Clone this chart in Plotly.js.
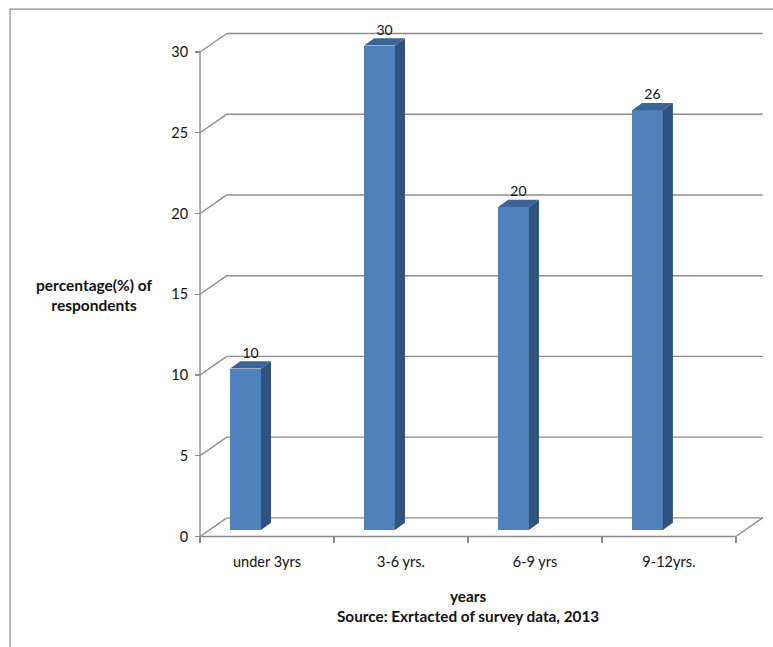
<!DOCTYPE html>
<html>
<head>
<meta charset="utf-8">
<script src="https://cdn.plot.ly/plotly-3.0.1.min.js"></script>
<style>html,body{margin:0;padding:0;background:#fff;}#chart{width:773px;height:647px;}</style>
</head>
<body>
<div id="chart"></div>
<script>
// ---- data ----
var categories = ["under 3yrs", "3-6 yrs.", "6-9 yrs", "9-12yrs."];
var values = [10, 30, 20, 26];
var yTicks = [0, 5, 10, 15, 20, 25, 30];
var yTitleText = "<b>percentage(%) of<br>respondents</b>";
var xTitleText = "<b>years</b>";
var sourceText = "<b>Source: Exrtacted of survey data, 2013</b>";

// ---- style constants (3D look) ----
var FONT = "Lato, 'Open Sans', sans-serif";
var GRID = "#8c8c8c";
var DX = 0.2, DY = 1.15;          // back-wall depth offset
var BAR_SHIFT = -0.16, BAR_W = 0.23, BASE = 0.4;
var SDX = 0.075, SDY = 0.45;      // bar depth
var FRONT = "#4F81BD", SIDE = "#31527C", TOP = "#3C6497";

var xs = categories.map(function(c, i){ return i; });
var nCat = categories.length;
var xL = -0.5, xR = nCat - 0.5;

// gridlines / walls as shapes below traces
var shapes = [];
function seg(x0, y0, x1, y1){
  shapes.push({type:'line', xref:'x', yref:'y', x0:x0, y0:y0, x1:x1, y1:y1,
    line:{color:GRID, width:1.4}, layer:'below'});
}
yTicks.forEach(function(t){
  seg(xL, t, xL + DX, t + DY);
  seg(xL + DX, t + DY, xR + DX, t + DY);
});
seg(xL, 0, xL, yTicks[yTicks.length-1]);
seg(xL, 0, xR, 0);
seg(xR, 0, xR + DX, DY);
// outer frame
shapes.push({type:'rect', xref:'paper', yref:'paper', x0:-0.289, x1:1.05, y0:1.0347, y1:-0.26,
  line:{color:'#8a8a8a', width:1.2}, fillcolor:'rgba(0,0,0,0)', layer:'below'});

// side and top faces
var sideX = [], sideY = [], topX = [], topY = [];
values.forEach(function(v, i){
  var xl = xs[i] + BAR_SHIFT - BAR_W/2, xr = xs[i] + BAR_SHIFT + BAR_W/2;
  var yb = BASE, yt = BASE + v;
  sideX.push(xr, xr+SDX, xr+SDX, xr, xr, null);
  sideY.push(yb, yb+SDY, yt+SDY, yt, yb, null);
  topX.push(xl, xl+SDX, xr+SDX, xr, xl, null);
  topY.push(yt, yt+SDY, yt+SDY, yt, yt, null);
});

var traces = [
  {type:'bar', x:xs, y:values, base:BASE, width:BAR_W, offset:BAR_SHIFT - BAR_W/2,
   marker:{color:FRONT, line:{width:0}}, hoverinfo:'none'},
  {type:'scatter', mode:'lines', x:sideX, y:sideY, fill:'toself', fillcolor:SIDE,
   line:{width:0, color:SIDE}, hoverinfo:'none'},
  {type:'scatter', mode:'lines', x:topX, y:topY, fill:'toself', fillcolor:TOP,
   line:{width:0, color:TOP}, hoverinfo:'none'},
  {type:'scatter', mode:'text', x:xs.map(function(x){return x + BAR_SHIFT + SDX/2;}),
   y:values.map(function(v){return BASE + v + SDY;}),
   text:values.map(String), textposition:'top center', cliponaxis:false,
   textfont:{family:FONT, size:14, color:'#111'}, hoverinfo:'none'}
];

var layout = {
  width:773, height:647,
  margin:{l:180, r:5, t:27, b:102},
  paper_bgcolor:'#fff', plot_bgcolor:'#fff',
  showlegend:false, bargap:0,
  font:{family:FONT, size:14, color:'#111'},
  xaxis:{range:[-0.56, 3.74], domain:[0.0204, 1], anchor:'free', position:0.01641,
    tickmode:'array', tickvals:xs, ticktext:categories, ticks:'',
    ticklabelstandoff:15,
    minor:{tickmode:'array', tickvals:[-0.5,0.5,1.5,2.5,3.5], ticks:'outside', ticklen:6,
      tickcolor:GRID, tickwidth:1.4, showgrid:false},
    showgrid:false, zeroline:false, showline:false, fixedrange:true,
    tickfont:{family:FONT, size:14.5, color:'#111'}},
  yaxis:{range:[-0.15, 31.55], domain:[0.01178, 1], anchor:'free', position:0.03401,
    tickmode:'array', tickvals:yTicks, ticks:'outside', ticklen:5, tickcolor:GRID, tickwidth:1.4,
    ticklabelstandoff:4,
    showgrid:false, zeroline:false, showline:false, fixedrange:true,
    tickfont:{family:FONT, size:14.5, color:'#111'}},
  shapes:shapes,
  annotations:[
    {xref:'paper', yref:'paper', x:-0.145, y:0.4817, text:yTitleText, showarrow:false,
     xanchor:'center', yanchor:'middle', align:'center', font:{family:FONT, size:15.5, color:'#111'}},
    {xref:'paper', yref:'paper', x:0.4898, y:-0.0985, text:xTitleText, showarrow:false,
     xanchor:'center', yanchor:'middle', font:{family:FONT, size:15.3, color:'#111'}},
    {xref:'paper', yref:'paper', x:0.4898, y:-0.137, text:sourceText, showarrow:false,
     xanchor:'center', yanchor:'middle', font:{family:FONT, size:15.3, color:'#111'}}
  ]
};

Plotly.newPlot('chart', traces, layout, {displayModeBar:false, staticPlot:true});
</script>
</body>
</html>
